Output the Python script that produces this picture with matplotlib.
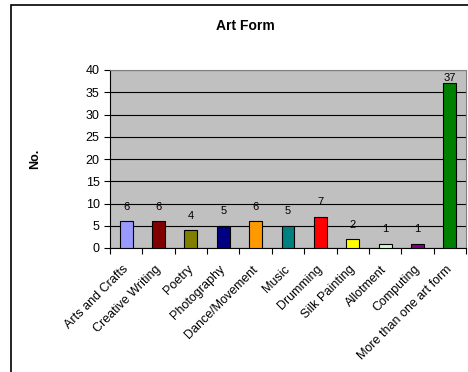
import matplotlib
matplotlib.use('Agg')
import matplotlib.pyplot as plt
import matplotlib.transforms as mtransforms
from matplotlib.patches import Rectangle

plt.rcParams['font.family'] = ['Liberation Sans', 'DejaVu Sans']

categories = ['Arts and Crafts', 'Creative Writing', 'Poetry', 'Photography',
              'Dance/Movement', 'Music', 'Drumming', 'Silk Painting',
              'Allotment', 'Computing', 'More than one art form']
counts = [6, 6, 4, 5, 6, 5, 7, 2, 1, 1, 37]
bar_colors = ['#9999FF', '#800000', '#808000', '#000080', '#FF9900', '#008080',
              '#FF0000', '#FFFF00', '#CCFFCC', '#800080', '#008000']
yticks = [0, 5, 10, 15, 20, 25, 30, 35, 40]

W, H = 468, 372
fig = plt.figure(figsize=(W / 100, H / 100), dpi=100)
fig.patch.set_facecolor('white')

# plot area in pixels: x 110..466, y 70..248
ax = fig.add_axes([110 / W, 1 - 248 / H, 356 / W, 178 / H])
ax.set_facecolor('#C0C0C0')

x = list(range(len(categories)))
ax.bar(x, counts, width=0.4, color=bar_colors, edgecolor='black',
       linewidth=0.8, zorder=3)
# value labels ~14.5 px above bar tops, kept inside the plot area
for xi, v in zip(x, counts):
    ax.text(xi, min(v + 3.25, 38.2), str(v), ha='center', va='center',
            fontsize=8, zorder=4)

ax.set_xlim(-0.5, len(categories) - 0.5)
ax.set_ylim(0, 40)
ax.set_yticks(yticks)
ax.yaxis.grid(True, color='black', linewidth=0.8, zorder=1)
ax.set_axisbelow(True)
ax.set_xticks([i - 0.5 for i in range(len(categories) + 1)])
ax.set_xticklabels([])
ax.set_xticks(x, minor=True)
ax.set_xticklabels(categories, minor=True, rotation=45, ha='right',
                   rotation_mode='anchor', fontsize=9)
shift = mtransforms.ScaledTranslation(-4 / 100, 0, fig.dpi_scale_trans)
for lab in ax.get_xticklabels(minor=True):
    lab.set_va('center')
    lab.set_transform(lab.get_transform() + shift)
ax.tick_params(axis='x', which='minor', length=0, pad=14)
ax.tick_params(axis='x', which='major', length=4, width=0.8)
ax.tick_params(axis='y', length=4.5, width=0.8, labelsize=9, pad=3)

for side in ['top', 'right']:
    ax.spines[side].set_color('#808080')
for side in ['left', 'bottom']:
    ax.spines[side].set_color('black')
    ax.spines[side].set_linewidth(0.8)

ax.set_ylabel('No.', fontweight='bold', fontsize=9, labelpad=32)
fig.text(245 / W, 1 - 26 / H, 'Art Form', ha='center', va='center',
         fontweight='bold', fontsize=10)

# chart frame
fig.patches.append(Rectangle((11 / W, -0.1), 1.2, 1 - 5 / H + 0.1,
                             transform=fig.transFigure, fill=False,
                             edgecolor='black', linewidth=1.2))

fig.savefig('out.png', dpi=100)
